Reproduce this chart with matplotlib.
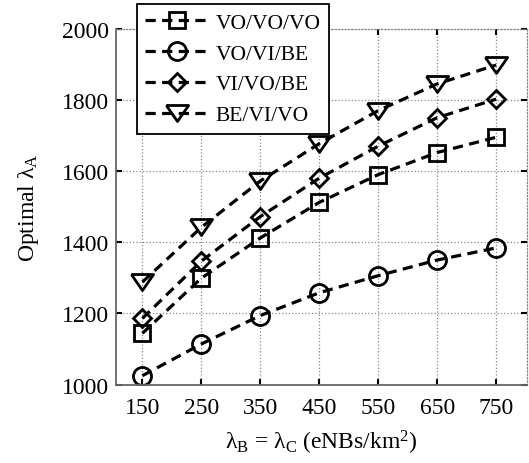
import numpy as np
import matplotlib
matplotlib.use("Agg")
import matplotlib.pyplot as plt

plt.rcParams['font.family'] = ['Liberation Serif', 'DejaVu Serif']
plt.rcParams['mathtext.fontset'] = 'custom'
plt.rcParams['mathtext.rm'] = 'Liberation Serif'
plt.rcParams['mathtext.it'] = 'Liberation Serif:italic'

# x positions (eNB density)
density = [150, 250, 350, 450, 550, 650, 750]

# optimal lambda_A for each scheme
vo_vo_vo = [1144, 1299, 1412, 1512, 1590, 1652, 1695]
vo_vi_be = [1025, 1114, 1194, 1258, 1306, 1350, 1384]
vi_vo_be = [1186, 1347, 1472, 1580, 1670, 1750, 1802]
be_vi_vo = [1288, 1442, 1572, 1677, 1770, 1845, 1898]

labels = ['VO/VO/VO', 'VO/VI/BE', 'VI/VO/BE', 'BE/VI/VO']
# wide, flat downward triangle like the MATLAB one
tri = [(-1, 0.72), (1, 0.72), (0, -0.72), (-1, 0.72)]
markers = ['s', 'o', 'D', tri]
sizes = [11, 13, 9, 16]

fig = plt.figure(figsize=(5.29, 4.64), dpi=100)
ax = fig.add_axes([0.219, 0.169, 0.778, 0.767])

series = [vo_vo_vo, vo_vi_be, vi_vo_be, be_vi_vo]
for vals, lab, mk, ms in zip(series, labels, markers, sizes):
    ax.plot(density, vals, linestyle=(0, (3.2, 2)), color='black', lw=2.3,
            marker=mk, ms=ms, mfc='none', mec='black', mew=2.0, label=lab)

ax.set_xlim(105, 803)
ax.set_ylim(1000, 2000)
ax.set_xticks(density)
ax.set_yticks([1000, 1200, 1400, 1600, 1800, 2000])
ax.tick_params(axis='both', direction='in', top=True, right=True, labelsize=17,
               length=4, width=1.5, color='black')
ax.tick_params(axis='x', pad=9)
ax.tick_params(axis='y', pad=5)
ax.grid(True, ls=':', color='#888888', lw=0.9)
for side in ['left', 'bottom']:
    ax.spines[side].set_color('#666666')
    ax.spines[side].set_linewidth(1.3)
for side in ['top', 'right']:
    ax.spines[side].set_color('#888888')
    ax.spines[side].set_linestyle(':')
    ax.spines[side].set_linewidth(0.9)

ax.set_xlabel(r'$\mathrm{\lambda_B}$ = $\mathrm{\lambda_C}$ (eNBs/km$^2$)', fontsize=17, labelpad=7)
ax.set_ylabel(r'Optimal $\mathrm{\lambda_A}$', fontsize=17, labelpad=15)

leg = ax.legend(loc='upper left', bbox_to_anchor=(0.051, 1.069), fontsize=15.5,
                handlelength=2.9, frameon=True, fancybox=False, borderpad=0.4,
                labelspacing=0.5, handletextpad=0.35, borderaxespad=0)
leg.get_frame().set_edgecolor('black')
leg.get_frame().set_linewidth(1.3)
leg.get_frame().set_alpha(1)

fig.savefig('out.png', dpi=100)
